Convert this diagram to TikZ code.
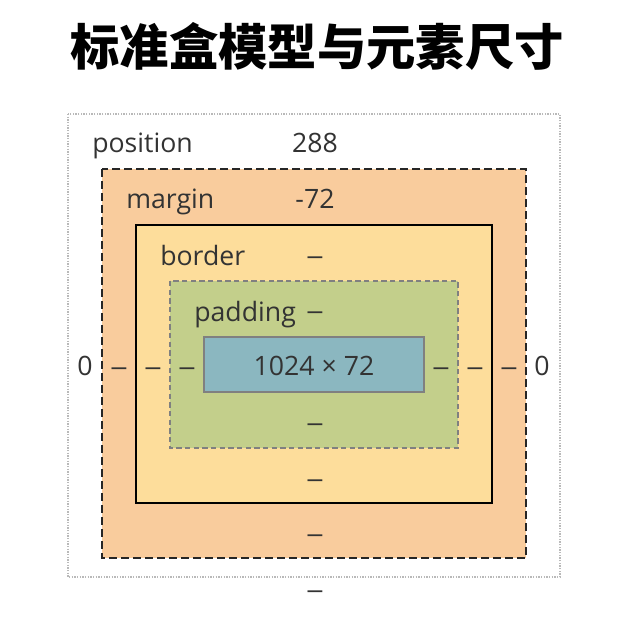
\documentclass[tikz,border=0pt]{standalone}
\usepackage{fontspec}
\setmainfont{Open Sans}
\newfontfamily\cjk{Noto Sans CJK SC}
\newfontfamily\dashfont{Liberation Sans}
\definecolor{txt}{HTML}{333333}
\definecolor{margincol}{HTML}{F9CC9D}
\definecolor{bordercol}{HTML}{FDDD9B}
\definecolor{paddingcol}{HTML}{C3CF8B}
\definecolor{contentcol}{HTML}{8BB7C0}
\tikzset{
  lbl/.style={text=txt, font=\fontsize{20}{24}\selectfont, inner sep=0pt, anchor=base},
  dsh/.style={text=txt, font=\dashfont\fontsize{20}{24}\selectfont, inner sep=0pt},
}
\begin{document}
\begin{tikzpicture}[x=0.75pt, y=-0.75pt]
			\useasboundingbox (0,0) rectangle (635,631);
			% boxes
			\draw[gray!55, densely dotted, line width=1pt] (68,114) rectangle (560,577);
			\filldraw[fill=margincol, draw=black!85, dash pattern=on 6pt off 3pt, line width=1.4pt] (102,169) rectangle (526,558);
			\filldraw[fill=bordercol, draw=black, line width=1.4pt] (136,225) rectangle (492,503);
			\filldraw[fill=paddingcol, draw=gray, dash pattern=on 4pt off 2.5pt, line width=1.4pt] (170,281) rectangle (458,448);
			\filldraw[fill=contentcol, draw=gray, line width=1.4pt] (204,337) rectangle (424,392);
			% title
			\node[font=\cjk\bfseries\fontsize{37}{40}\selectfont] (title) at (317,46) {标准盒模型与元素尺寸};
			% labels
			\draw 
			(92,153) node[lbl, anchor=base west](position){position} (315,153) node[lbl](pos){288}
			(126,209) node[lbl, anchor=base west](margin){margin} (315,209) node[lbl](mar){-72}
			(160,265) node[lbl, anchor=base west](border){border} (315,261) node[dsh](bor){–}
			(194,321) node[lbl, anchor=base west](padding){padding} (315,316) node[dsh](pad){–}
			(314,375) node[lbl](content){1024 × 72};
			\draw 
			(85,375) node[lbl](posl){0} (119,372) node[dsh](marl){–} (153,372) node[dsh](borl){–} (187,372) node[dsh](padl){–}
			(441,372) node[dsh](padr){–} (475,372) node[dsh](borr){–} (509,372) node[dsh](marr){–} (542,375) node[lbl](posr){0};
			\draw 
			(315,428) node[dsh](padb){–} (315,484) node[dsh](borb){–} (315,539) node[dsh](marb){–} (315,595) node[dsh](posb){–};
		\end{tikzpicture}
\end{document}
